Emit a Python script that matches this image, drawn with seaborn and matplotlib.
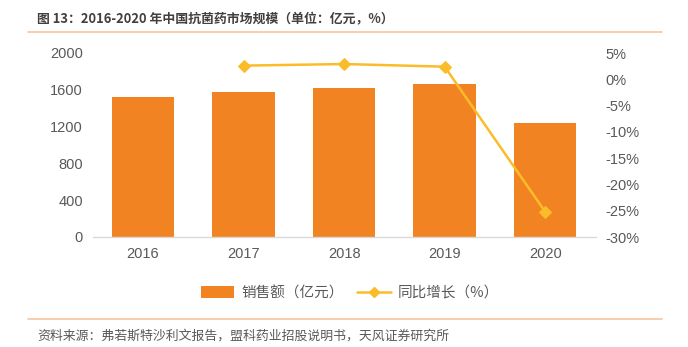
import matplotlib
matplotlib.use("Agg")
import matplotlib.pyplot as plt
from matplotlib.lines import Line2D
from matplotlib.patches import Patch
import seaborn as sns
import pandas as pd

# Chart data
years = ["2016", "2017", "2018", "2019", "2020"]
sales = [1525, 1573, 1616, 1660, 1239]          # 亿元
growth_years = ["2017", "2018", "2019", "2020"]
growth = [2.6, 2.9, 2.4, -25.2]                 # %
left_ticks = [0, 400, 800, 1200, 1600, 2000]
right_ticks = [5, 0, -5, -10, -15, -20, -25, -30]

sns.set_theme(style="white")
plt.rcParams["font.family"] = ["Liberation Sans", "Noto Sans CJK SC", "DejaVu Sans"]

BAR = "#F28322"
LINE = "#FBBC2A"
TXT = "#595959"
RULE = "#F7C59F"

df = pd.DataFrame({"year": years, "sales": sales})
gdf = pd.DataFrame({"year": growth_years, "growth": growth})
gdf["pos"] = [years.index(y) for y in growth_years]

fig = plt.figure(figsize=(6.88, 3.47), dpi=100)
ax = fig.add_axes([92.7 / 688, 1 - 237 / 347, (595.5 - 92.7) / 688, (237 - 53) / 347])

sns.barplot(data=df, x="year", y="sales", color=BAR, width=0.62, ax=ax,
            saturation=1, edgecolor="none")
ax.set_ylim(0, 2000)
ax.set_xlim(-0.5, 4.5)
ax.set_yticks(left_ticks)
ax.set_yticklabels([str(t) for t in left_ticks])
ax.set_xlabel("")
ax.set_ylabel("")
for s in ["top", "right", "left"]:
    ax.spines[s].set_visible(False)
ax.spines["bottom"].set_color("#D9D9D9")
ax.spines["bottom"].set_linewidth(1.0)
ax.tick_params(axis="both", length=0, labelsize=10.5, labelcolor=TXT)
ax.tick_params(axis="y", pad=7)
ax.tick_params(axis="x", pad=7)

ax2 = ax.twinx()
sns.lineplot(data=gdf, x="pos", y="growth", color=LINE, marker="D", markersize=6,
             markeredgecolor=LINE, linewidth=1.8, ax=ax2)
ax2.set_ylim(-30, 5)
ax2.set_xlim(-0.5, 4.5)
ax2.set_yticks(right_ticks)
ax2.set_yticklabels([f"{t}%" for t in right_ticks])
ax2.set_ylabel("")
ax2.set_xlabel("")
for s in ["top", "right", "left", "bottom"]:
    ax2.spines[s].set_visible(False)
ax2.tick_params(axis="y", length=0, labelsize=10.5, labelcolor=TXT, pad=7)
ax2.grid(False)
ax.grid(False)

# Legend
handles = [Patch(facecolor=BAR, edgecolor="none"),
           Line2D([0], [0], color=LINE, marker="D", markersize=5, linewidth=1.8)]
labels = ["销售额（亿元）", "同比增长（%）"]
fig.legend(handles, labels, loc="center", bbox_to_anchor=(350 / 688, 1 - 293 / 347),
           ncol=2, frameon=False, labelcolor=TXT,
           handlelength=2.3, handleheight=0.8, columnspacing=0.9, handletextpad=0.5,
           prop={"family": ["Noto Sans CJK SC", "DejaVu Sans"], "size": 10.5})

# Title, rules and source note
fig.text(37 / 688, 1 - 19 / 347, "图 13：2016-2020 年中国抗菌药市场规模（单位：亿元，%）",
         fontsize=9.3, fontweight="bold", color="#404040", va="center", ha="left",
         family=["Noto Sans CJK SC", "DejaVu Sans"])
fig.add_artist(Line2D([28 / 688, 662 / 688], [1 - 32 / 347, 1 - 32 / 347],
                      color=RULE, linewidth=1.2, transform=fig.transFigure))
fig.add_artist(Line2D([28 / 688, 662 / 688], [1 - 319 / 347, 1 - 319 / 347],
                      color=RULE, linewidth=1.2, transform=fig.transFigure))
fig.text(37 / 688, 1 - 336 / 347, "资料来源：弗若斯特沙利文报告，盟科药业招股说明书，天风证券研究所",
         fontsize=9.3, color=TXT, va="center", ha="left",
         family=["Noto Sans CJK SC", "DejaVu Sans"])

fig.savefig("out.png", dpi=100, facecolor="white")
